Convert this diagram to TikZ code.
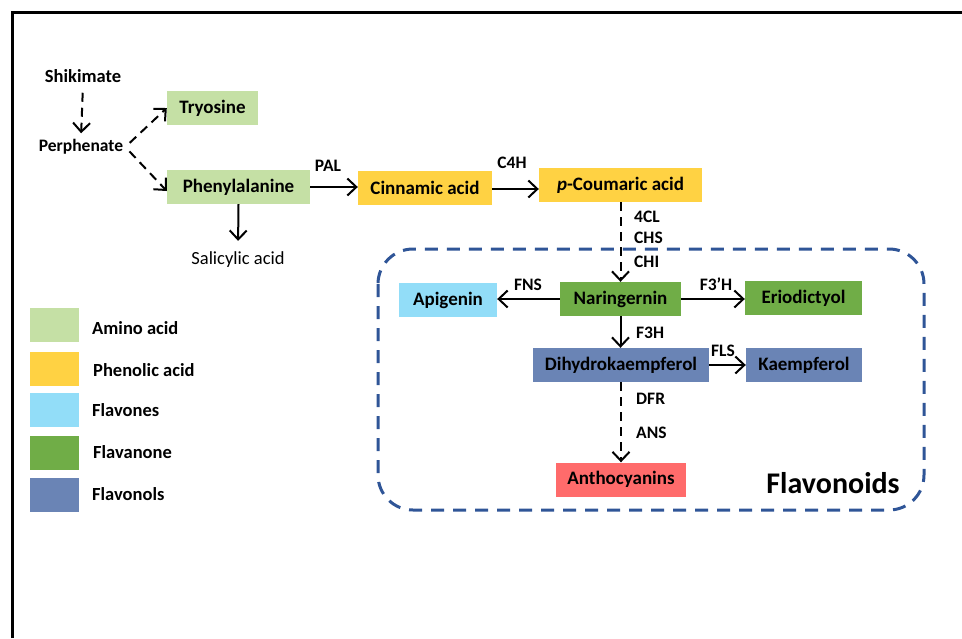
\documentclass[tikz,border=0pt]{standalone}
\usepackage{fontspec}
\setmainfont{Carlito}
\usetikzlibrary{arrows.meta}
\definecolor{amino}{HTML}{C5E0A5}
\definecolor{phenol}{HTML}{FFD243}
\definecolor{flavone}{HTML}{92DDF8}
\definecolor{flavanone}{HTML}{70AD47}
\definecolor{flavonol}{HTML}{6A84B5}
\definecolor{antho}{HTML}{FF6B6B}
\definecolor{frameblue}{HTML}{2F5597}
\tikzset{
  cbox/.style={minimum height=34pt, inner sep=0pt, font=\bfseries\fontsize{19}{21}\selectfont},
  swatch/.style={minimum width=49pt, minimum height=34pt, inner sep=0pt},
  legtext/.style={anchor=west, inner sep=0pt, font=\bfseries\fontsize{18.5}{21}\selectfont},
  plain/.style={inner sep=2pt, font=\bfseries\fontsize{17.5}{20}\selectfont},
  enz/.style={inner sep=0pt, font=\bfseries\fontsize{17.5}{20}\selectfont},
  arr/.style={line width=2pt, -{Straight Barb[length=9pt,width=17pt,line width=2pt]}},
  darr/.style={arr, dash pattern=on 9pt off 6pt},
}
\begin{document}
\begin{tikzpicture}[x=1pt,y=-1pt]
\useasboundingbox (0,0) rectangle (962,638);
% frame
\draw[line width=3pt] (12.5,638) -- (12.5,12.5) -- (962,12.5);
% flavonoid region
\draw[frameblue, line width=3pt, dash pattern=on 13pt off 9pt, rounded corners=35pt] (378,249) rectangle (924,510);
\node[inner sep=0pt, font=\bfseries\fontsize{30}{34}\selectfont] (flv) at (833,483) {Flavonoids};

% top part
\node[plain, font=\bfseries\fontsize{18.5}{20}\selectfont] (shik) at (83,76) {Shikimate};
\node[plain] (perph) at (81,147) {Perphenate};
\node[cbox, fill=amino, minimum width=91pt] (tyr) at (212.5,108) {Tryosine};
\node[cbox, fill=amino, minimum width=143pt] (phe) at (238.5,187) {Phenylalanine};
\node[inner sep=2pt, font=\fontsize{18.5}{20}\selectfont] (sal) at (238,260) {Salicylic acid};
\node[cbox, fill=phenol, minimum width=134pt] (cin) at (425,188) {Cinnamic acid};
\node[cbox, fill=phenol, minimum width=163pt] (pcou) at (620.5,185) {\textit{p}-Coumaric acid};

% flavonoids
\node[cbox, fill=flavone, minimum width=98pt] (api) at (448,300) {Apigenin};
\node[cbox, fill=flavanone, minimum width=121pt] (nar) at (620.5,299) {Naringernin};
\node[cbox, fill=flavanone, minimum width=117pt] (eri) at (803.5,298) {Eriodictyol};
\node[cbox, fill=flavonol, minimum width=176pt] (dhk) at (621,365) {Dihydrokaempferol};
\node[cbox, fill=flavonol, minimum width=116pt] (kae) at (804,365) {Kaempferol};
\node[cbox, fill=antho, minimum width=130pt] (ant) at (621,479.5) {Anthocyanins};

% connectors
\draw[darr, shorten <=8pt, shorten >=4pt] (shik.south) -- (perph.north);
\draw[darr, shorten <=6pt] (perph.east) -- (tyr.west);
\draw[darr, shorten <=6pt] (perph.east) -- ([yshift=-4pt]phe.west);
\draw[arr, shorten >=9pt] (phe.south) -- (sal.north);
\draw[arr] (phe.east) -- (phe.east -| cin.west);
\draw[arr] ([yshift=-1pt]cin.east) -- ([yshift=-1pt]cin.east -| pcou.west);
\draw[darr] (pcou.south) -- (pcou.south |- nar.north);
\draw[arr] (nar.west) -- (nar.west -| api.east);
\draw[arr] (nar.east) -- (nar.east -| eri.west);
\draw[arr] (nar.south) -- (nar.south |- dhk.north);
\draw[arr] (dhk.east) -- (kae.west);
\draw[darr] (dhk.south) -- (ant.north);

% enzyme labels
\node[enz] (pal) at (328,166) {PAL};
\node[enz] (c4h) at (512,163) {C4H};
\node[enz, anchor=west] (cl) at (634,217) {4CL};
\node[enz, anchor=west] (chs) at (634,238) {CHS};
\node[enz, anchor=west] (chi) at (634,262) {CHI};
\node[enz] (fns) at (528,285) {FNS};
\node[enz] (f3ph) at (716,284) {F3’H};
\node[enz, anchor=west] (f3h) at (636,333) {F3H};
\node[enz] (fls) at (723,351) {FLS};
\node[enz, anchor=west] (dfr) at (636,399) {DFR};
\node[enz, anchor=west] (ans) at (636,433) {ANS};

% legend
\node[swatch, fill=amino] (l1) at (54.5,325) {};
\node[swatch, fill=phenol] (l2) at (54.5,368.5) {};
\node[swatch, fill=flavone] (l3) at (54.5,410) {};
\node[swatch, fill=flavanone] (l4) at (54.5,452.5) {};
\node[swatch, fill=flavonol] (l5) at (54.5,495) {};
\node[legtext] (t1) at (92,328) {Amino acid};
\node[legtext] (t2) at (93,370) {Phenolic acid};
\node[legtext] (t3) at (92,410) {Flavones};
\node[legtext] (t4) at (93,452) {Flavanone};
\node[legtext] (t5) at (92,494) {Flavonols};
\end{tikzpicture}
\end{document}
